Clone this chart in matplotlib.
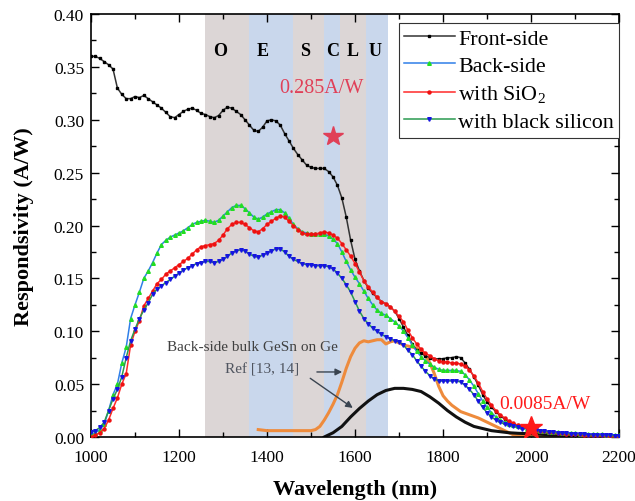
import numpy as np
import matplotlib
matplotlib.use("Agg")
import matplotlib.pyplot as plt
from matplotlib.ticker import MultipleLocator

plt.rcParams['font.family'] = ['Liberation Serif', 'DejaVu Serif']
plt.rcParams['mathtext.fontset'] = 'custom'
plt.rcParams['mathtext.rm'] = 'Liberation Serif'

wl = np.arange(1000, 2201, 10)

front = [0.360, 0.360, 0.358, 0.355, 0.352, 0.348, 0.330, 0.324, 0.320, 0.320,
         0.322, 0.321, 0.323, 0.320, 0.317, 0.314, 0.311, 0.307, 0.303, 0.302,
         0.305, 0.308, 0.310, 0.311, 0.309, 0.306, 0.305, 0.303, 0.302, 0.304,
         0.309, 0.312, 0.311, 0.308, 0.305, 0.300, 0.295, 0.290, 0.289, 0.293,
         0.299, 0.300, 0.299, 0.295, 0.287, 0.280, 0.273, 0.267, 0.262, 0.257,
         0.255, 0.254, 0.254, 0.254, 0.251, 0.246, 0.238, 0.226, 0.208, 0.186,
         0.168, 0.157, 0.148, 0.141, 0.136, 0.132, 0.128, 0.126, 0.123, 0.119,
         0.112, 0.104, 0.096, 0.088, 0.082, 0.079, 0.077, 0.075, 0.074, 0.074,
         0.074, 0.075, 0.075, 0.076, 0.075, 0.070, 0.064, 0.057, 0.049, 0.040,
         0.033, 0.028, 0.024, 0.020, 0.017, 0.014, 0.012, 0.011, 0.010, 0.009,
         0.0085, 0.007, 0.006, 0.0055, 0.005, 0.0045, 0.004, 0.0035, 0.003, 0.003,
         0.0025, 0.0025, 0.002, 0.002, 0.002, 0.0015, 0.0015, 0.0015, 0.001, 0.001,
         0.001]

back = [0.003, 0.004, 0.007, 0.012, 0.025, 0.040, 0.050, 0.070, 0.085, 0.112,
        0.125, 0.137, 0.150, 0.157, 0.165, 0.174, 0.182, 0.186, 0.189, 0.191,
        0.193, 0.195, 0.198, 0.201, 0.203, 0.204, 0.205, 0.204, 0.203, 0.205,
        0.209, 0.213, 0.217, 0.219, 0.219, 0.216, 0.212, 0.208, 0.206, 0.208,
        0.211, 0.213, 0.215, 0.215, 0.212, 0.207, 0.201, 0.197, 0.194, 0.193,
        0.192, 0.192, 0.192, 0.192, 0.190, 0.187, 0.183, 0.175, 0.166, 0.158,
        0.151, 0.145, 0.138, 0.131, 0.125, 0.120, 0.117, 0.115, 0.112, 0.109,
        0.105, 0.100, 0.094, 0.087, 0.081, 0.076, 0.072, 0.069, 0.066, 0.064,
        0.063, 0.063, 0.063, 0.063, 0.062, 0.059, 0.054, 0.048, 0.041, 0.034,
        0.028, 0.023, 0.019, 0.016, 0.014, 0.012, 0.011, 0.010, 0.009, 0.008,
        0.007, 0.0065, 0.006, 0.0055, 0.005, 0.0048, 0.0045, 0.0042, 0.004, 0.0038,
        0.0035, 0.0032, 0.003, 0.003, 0.0028, 0.0025, 0.0025, 0.0022, 0.002, 0.002,
        0.002]

sio2 = [0.000, 0.002, 0.004, 0.008, 0.016, 0.027, 0.037, 0.050, 0.060, 0.087,
        0.100, 0.110, 0.124, 0.131, 0.138, 0.145, 0.149, 0.154, 0.157, 0.160,
        0.163, 0.166, 0.169, 0.173, 0.177, 0.180, 0.181, 0.182, 0.183, 0.186,
        0.191, 0.197, 0.201, 0.203, 0.203, 0.201, 0.198, 0.195, 0.194, 0.197,
        0.201, 0.204, 0.207, 0.209, 0.208, 0.204, 0.200, 0.196, 0.193, 0.192,
        0.192, 0.192, 0.193, 0.194, 0.193, 0.191, 0.188, 0.183, 0.177, 0.171,
        0.164, 0.156, 0.148, 0.142, 0.137, 0.132, 0.128, 0.126, 0.123, 0.119,
        0.114, 0.109, 0.101, 0.094, 0.088, 0.083, 0.079, 0.077, 0.074, 0.072,
        0.071, 0.071, 0.070, 0.070, 0.069, 0.067, 0.063, 0.058, 0.051, 0.043,
        0.036, 0.030, 0.025, 0.021, 0.018, 0.015, 0.013, 0.011, 0.010, 0.009,
        0.008, 0.007, 0.006, 0.0055, 0.005, 0.0045, 0.004, 0.0035, 0.003, 0.003,
        0.0025, 0.0025, 0.002, 0.002, 0.002, 0.0015, 0.0015, 0.0015, 0.001, 0.001,
        0.001]

bsi = [0.005, 0.006, 0.009, 0.014, 0.025, 0.036, 0.045, 0.057, 0.075, 0.091,
       0.102, 0.112, 0.120, 0.127, 0.135, 0.140, 0.143, 0.146, 0.149, 0.152,
       0.155, 0.158, 0.160, 0.162, 0.164, 0.165, 0.166, 0.166, 0.165, 0.166,
       0.168, 0.171, 0.174, 0.176, 0.177, 0.176, 0.173, 0.171, 0.170, 0.172,
       0.174, 0.176, 0.178, 0.178, 0.175, 0.171, 0.168, 0.166, 0.164, 0.163,
       0.163, 0.162, 0.162, 0.162, 0.161, 0.159, 0.155, 0.150, 0.144, 0.137,
       0.128, 0.119, 0.112, 0.107, 0.103, 0.100, 0.097, 0.095, 0.093, 0.091,
       0.090, 0.087, 0.082, 0.078, 0.072, 0.067, 0.062, 0.058, 0.055, 0.053,
       0.053, 0.053, 0.053, 0.053, 0.052, 0.049, 0.045, 0.040, 0.034, 0.028,
       0.023, 0.019, 0.016, 0.014, 0.012, 0.011, 0.010, 0.009, 0.008, 0.008,
       0.007, 0.0065, 0.006, 0.0055, 0.005, 0.0045, 0.004, 0.0038, 0.0035, 0.003,
       0.003, 0.0028, 0.0025, 0.0022, 0.002, 0.002, 0.0018, 0.0015, 0.0015, 0.0012,
       0.001]

ref_gesn_wl = [1380, 1400, 1420, 1440, 1460, 1480, 1500, 1510, 1520, 1530,
               1540, 1550, 1560, 1570, 1580, 1590, 1600, 1610, 1620, 1630,
               1640, 1650, 1660, 1670, 1680, 1690, 1700, 1710, 1720, 1730,
               1740, 1750, 1760, 1770, 1780, 1790, 1800, 1810, 1820, 1830,
               1840, 1860, 1880, 1900, 1920, 1940, 1960, 1980, 2000, 2060]
ref_gesn = [0.007, 0.006, 0.006, 0.006, 0.006, 0.006, 0.006, 0.007, 0.010, 0.016,
            0.023, 0.031, 0.040, 0.052, 0.065, 0.076, 0.084, 0.089, 0.091, 0.090,
            0.091, 0.092, 0.092, 0.088, 0.090, 0.091, 0.089, 0.087, 0.086, 0.085,
            0.084, 0.082, 0.077, 0.070, 0.060, 0.048, 0.039, 0.034, 0.030, 0.027,
            0.024, 0.021, 0.018, 0.014, 0.010, 0.006, 0.002, 0.001, 0.0005, 0.0]

ref_ge_wl = [1530, 1550, 1570, 1590, 1610, 1630, 1650, 1670, 1690, 1710,
             1730, 1750, 1770, 1790, 1810, 1830, 1850, 1870, 1890, 1910,
             1930, 1950, 1970, 2000, 2050, 2100, 2200]
ref_ge = [0.000, 0.004, 0.010, 0.019, 0.027, 0.034, 0.040, 0.044, 0.046, 0.046,
          0.045, 0.043, 0.038, 0.032, 0.025, 0.019, 0.014, 0.010, 0.008, 0.006,
          0.005, 0.004, 0.0035, 0.003, 0.002, 0.0012, 0.0005]

bands = [("O", 1260, 1360, "#dcd6d6"), ("E", 1360, 1460, "#c9d7ec"),
         ("S", 1460, 1530, "#dcd6d6"), ("C", 1530, 1565, "#c9d7ec"),
         ("L", 1565, 1625, "#dcd6d6"), ("U", 1625, 1675, "#c9d7ec")]
band_label_x = [1293, 1391, 1486, 1548, 1595, 1645]

fig = plt.figure(figsize=(6.35, 5.02), dpi=100)
ax = fig.add_axes([0.1433, 0.1275, 0.8317, 0.8425])

for (name, a, b, c), lx in zip(bands, band_label_x):
    ax.axvspan(a, b, color=c, lw=0, zorder=0)
    ax.text(lx, 0.366, name, ha='center', va='center', fontsize=13,
            fontweight='bold', zorder=5)

ax.plot(ref_gesn_wl, ref_gesn, color='#ee8b3c', lw=2.2, zorder=2)
ax.plot(ref_ge_wl, ref_ge, color='#111111', lw=2.2, zorder=2)

ax.plot(wl, front, color='#333333', lw=1.1, marker='s', ms=2.0,
        mfc='black', mec='black', label='Front-side', zorder=3)
ax.plot(wl, back, color='#2f7fe8', lw=1.1, marker='^', ms=2.6,
        mfc='#22dd22', mec='#22dd22', label='Back-side', zorder=3)
ax.plot(wl, sio2, color='#ff2a2a', lw=1.1, marker='o', ms=2.2,
        mfc='#ee1111', mec='#ee1111', label='with SiO$_2$', zorder=3)
ax.plot(wl, bsi, color='#2a9a50', lw=1.1, marker='v', ms=2.6,
        mfc='#1515e0', mec='#1515e0', label='with black silicon', zorder=3)

ax.plot([1550], [0.285], marker='*', ms=15, color='#e04058', zorder=6)
ax.text(1524, 0.331, '0.285A/W', color='#e04058', fontsize=14.5,
        ha='center', va='center', zorder=6)
ax.plot([2000], [0.0085], marker='*', ms=17, color='#ff1a1a', zorder=6)
ax.text(2032, 0.032, '0.0085A/W', color='#ff1a1a', fontsize=14,
        ha='center', va='center', zorder=6)

ax.text(1173, 0.086, 'Back-side bulk GeSn on Ge', color='#404040',
        fontsize=11, ha='left', va='center', zorder=6)
ax.text(1389, 0.064, 'Ref [13, 14]', color='#505560', fontsize=11,
        ha='center', va='center', zorder=6)
ax.annotate('', xy=(1577, 0.0615), xytext=(1507, 0.0615),
            arrowprops=dict(arrowstyle='-|>', color='#3a4450', lw=1.0,
                            mutation_scale=10), zorder=6)
ax.annotate('', xy=(1600, 0.026), xytext=(1493, 0.057),
            arrowprops=dict(arrowstyle='-|>', color='#3a4450', lw=1.0,
                            mutation_scale=10), zorder=6)

ax.set_xlim(1000, 2200)
ax.set_ylim(0, 0.40)
ax.xaxis.set_major_locator(MultipleLocator(200))
ax.xaxis.set_minor_locator(MultipleLocator(100))
ax.yaxis.set_major_locator(MultipleLocator(0.05))
ax.yaxis.set_minor_locator(MultipleLocator(0.025))
ax.yaxis.set_major_formatter(matplotlib.ticker.FormatStrFormatter('%.2f'))
ax.tick_params(which='both', direction='in', top=True, right=True,
               labelsize=12.5, width=1.0)
ax.tick_params(which='major', length=6)
ax.tick_params(which='minor', length=3.5)
ax.tick_params(axis='x', which='major', pad=9)
ax.tick_params(axis='y', which='major', pad=5)
for s in ax.spines.values():
    s.set_linewidth(1.2)

ax.set_xlabel('Wavelength (nm)', fontsize=16, fontweight='bold', labelpad=10)
ax.set_ylabel('Respondsivity (A/W)', fontsize=16, fontweight='bold', labelpad=14)

leg = ax.legend(loc='upper right', bbox_to_anchor=(1.0, 0.979), fontsize=15.8,
                numpoints=1, handlelength=2.3, handletextpad=0.15,
                borderpad=0.25, labelspacing=0.32, fancybox=False,
                framealpha=1, borderaxespad=0)
leg.get_frame().set_edgecolor('#333333')
leg.get_frame().set_linewidth(0.8)

fig.savefig('out.png', dpi=100)
